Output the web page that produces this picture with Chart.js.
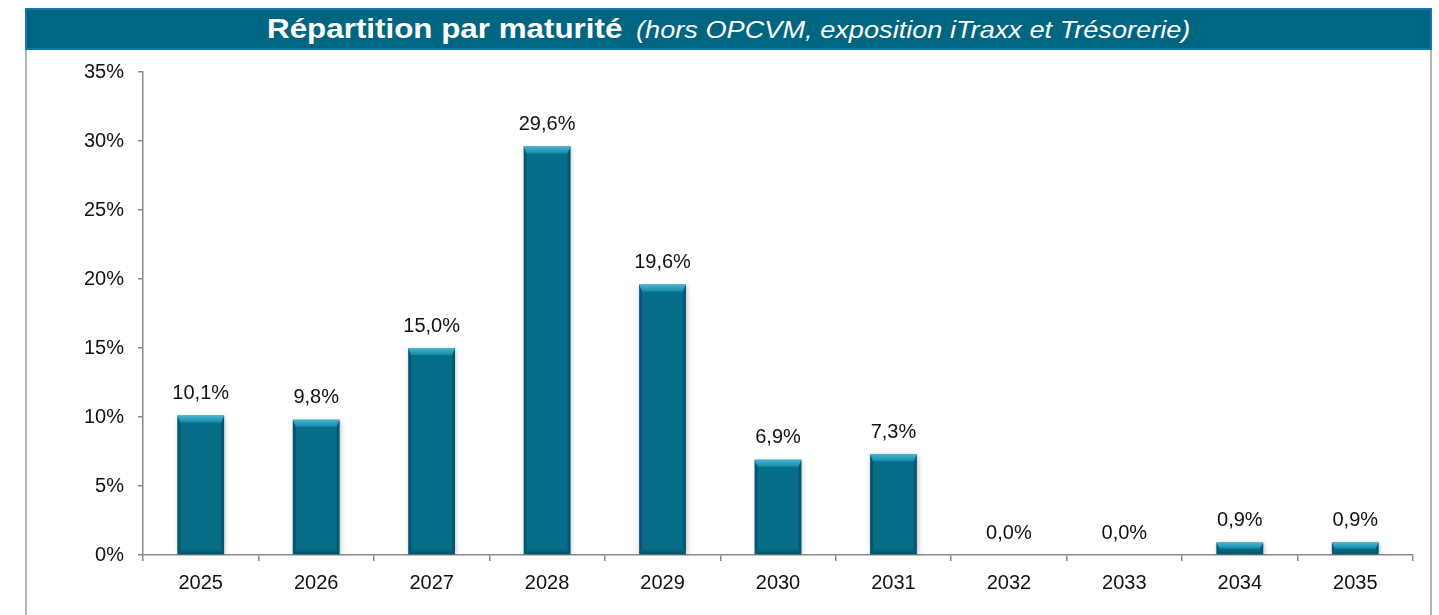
<!DOCTYPE html>
<html>
<head>
<meta charset="utf-8">
<script src="https://cdn.jsdelivr.net/npm/chart.js@4"></script>
<style>
  html, body { margin: 0; padding: 0; background: #ffffff; }
  #wrap { position: relative; width: 1439px; height: 615px; overflow: hidden; background: #fff; }
  #titlebar {
    position: absolute; left: 25px; top: 8px; width: 1403px; height: 38px;
    background: #006580; border: 2px solid #1279b0;
    display: flex; align-items: center; justify-content: center;
  }
  #titletext { color: #ffffff; font-family: "Liberation Sans", Arial, sans-serif; white-space: nowrap;
    transform: scaleX(1.1); transform-origin: center; margin-top: -1px; }
  #titletext b { font-size: 28.5px; font-weight: bold; }
  #titletext i { font-size: 24.7px; font-style: italic; margin-left: 8px; }
  .side { position: absolute; top: 50px; bottom: 0; width: 2px; background: #b4b4b4; }
  canvas { position: absolute; left: 0; top: 0; }
</style>
</head>
<body>
<div id="wrap">
  <div class="side" style="left:25px"></div>
  <div class="side" style="left:1430px"></div>
  <div id="titlebar"><div id="titletext"><b>Répartition par maturité</b> <i>(hors OPCVM, exposition iTraxx et Trésorerie)</i></div></div>
  <canvas id="c" width="1439" height="615"></canvas>
</div>
<script>
const categories = ['2025','2026','2027','2028','2029','2030','2031','2032','2033','2034','2035'];
const values = [10.1, 9.8, 15.0, 29.6, 19.6, 6.9, 7.3, 0.0, 0.0, 0.9, 0.9];
const yTicks = [0, 5, 10, 15, 20, 25, 30, 35];

const fmt = v => v.toFixed(1).replace('.', ',') + '%';
const FONT = '"Liberation Sans", Arial, sans-serif';

const bevelPlugin = {
  id: 'bevel',
  beforeDatasetsDraw(chart) {
    const ctx = chart.ctx;
    ctx.save();
    ctx.shadowColor = 'rgba(0,0,0,0.28)';
    ctx.shadowBlur = 5;
    ctx.shadowOffsetX = 1;
    ctx.shadowOffsetY = 1;
  },
  afterDatasetsDraw(chart) {
    const ctx = chart.ctx;
    ctx.restore();
    const meta = chart.getDatasetMeta(0);
    meta.data.forEach((bar, i) => {
      const p = bar.getProps(['x', 'y', 'base', 'width'], true);
      const left = p.x - p.width / 2, right = p.x + p.width / 2;
      const top = Math.min(p.y, p.base), bottom = Math.max(p.y, p.base);
      const h = bottom - top;
      if (h > 0.5) {
        const b = Math.min(7, h / 2);
        const s = 3;
        ctx.save();
        // bottom darkening
        const bb = Math.min(6, h / 2);
        const gb = ctx.createLinearGradient(0, bottom - bb, 0, bottom);
        gb.addColorStop(0, 'rgba(0,50,70,0)');
        gb.addColorStop(1, 'rgba(0,50,70,0.45)');
        ctx.fillStyle = gb;
        ctx.beginPath();
        ctx.moveTo(left + s, bottom - bb); ctx.lineTo(right - s, bottom - bb); ctx.lineTo(right, bottom); ctx.lineTo(left, bottom);
        ctx.closePath(); ctx.fill();
        // sides
        ctx.fillStyle = 'rgba(0,45,65,0.35)';
        ctx.beginPath();
        ctx.moveTo(left, top); ctx.lineTo(left + s, top + b); ctx.lineTo(left + s, bottom - bb); ctx.lineTo(left, bottom);
        ctx.closePath(); ctx.fill();
        ctx.beginPath();
        ctx.moveTo(right, top); ctx.lineTo(right - s, top + b); ctx.lineTo(right - s, bottom - bb); ctx.lineTo(right, bottom);
        ctx.closePath(); ctx.fill();
        // top bevel
        const g = ctx.createLinearGradient(0, top, 0, top + b);
        g.addColorStop(0, '#45b6d2');
        g.addColorStop(1, '#168aa8');
        ctx.fillStyle = g;
        ctx.beginPath();
        ctx.moveTo(left, top); ctx.lineTo(right, top); ctx.lineTo(right - s, top + b); ctx.lineTo(left + s, top + b);
        ctx.closePath(); ctx.fill();
        ctx.restore();
      }
      // value label
      ctx.save();
      ctx.font = '20px ' + FONT;
      ctx.fillStyle = '#111111';
      ctx.textAlign = 'center';
      ctx.textBaseline = 'middle';
      ctx.fillText(fmt(values[i]), p.x, p.y - 22);
      ctx.restore();
    });
  }
};

new Chart(document.getElementById('c'), {
  type: 'bar',
  data: {
    labels: categories,
    datasets: [{
      data: values,
      backgroundColor: '#086d89',
      borderWidth: 0,
      categoryPercentage: 1.0,
      barPercentage: 0.405
    }]
  },
  options: {
    responsive: false,
    animation: false,
    events: [],
    layout: { padding: { left: 0, top: 72, right: 26, bottom: 0 } },
    plugins: { legend: { display: false }, tooltip: { enabled: false }, title: { display: false } },
    scales: {
      x: {
        grid: { display: true, drawOnChartArea: false, offset: true, color: '#8a8a8a', tickLength: 6, lineWidth: 1.5 },
        border: { color: '#8a8a8a', width: 1.5 },
        ticks: { color: '#111111', font: { family: FONT, size: 20 }, padding: 10, maxRotation: 0 },
        afterFit(s) { s.height = 60; }
      },
      y: {
        min: 0, max: 35,
        afterBuildTicks(s) { s.ticks = yTicks.map(v => ({ value: v })); },
        grid: { display: true, drawOnChartArea: false, color: '#8a8a8a', tickLength: 5, lineWidth: 1.5 },
        border: { color: '#8a8a8a', width: 1.5 },
        ticks: { color: '#111111', font: { family: FONT, size: 20 }, padding: 14, callback: v => v + '%' },
        afterFit(s) { s.width = 143; }
      }
    }
  },
  plugins: [bevelPlugin]
});
</script>
</body>
</html>
